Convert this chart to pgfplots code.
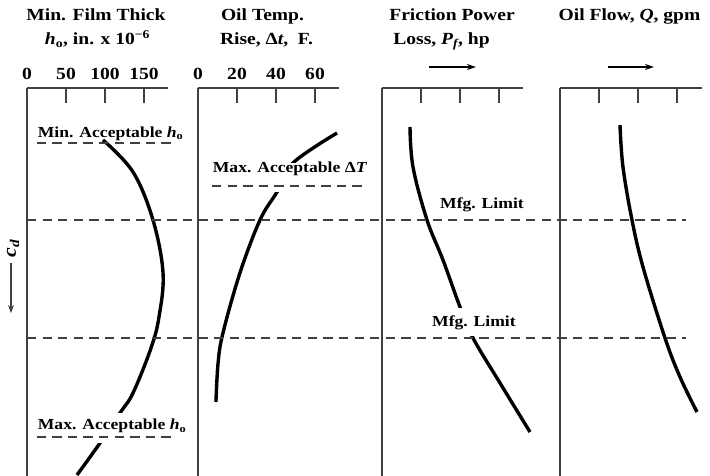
\documentclass[border=0pt]{standalone}
\usepackage{fontspec}
\setmainfont{Liberation Serif}[FakeStretch=1.15]
\usepackage{pgfplots}
\pgfplotsset{compat=1.18}
\usetikzlibrary{arrows.meta}
\definecolor{axgray}{HTML}{404040}
\newcommand{\tf}{\fontsize{17}{20}\selectfont\bfseries}
\newcommand{\af}{\fontsize{15.3}{18}\selectfont\bfseries}
\pgfplotsset{
  panel/.style={
    y=1pt, ymin=0, ymax=388,
    axis x line=top, axis y line=left,
    axis line style={-, line width=1.3pt, color=axgray},
    tick align=inside, major tick length=15pt,
    tick style={line width=1.3pt, color=axgray},
    ytick=\empty, minor tick num=0,
    clip=false,
    /pgf/number format/assume math mode=true,
    xticklabel style={font=\tf, anchor=base, yshift=8pt},
    anchor=south west,
  },
  ldash/.style={axgray, line width=1.4pt, dash pattern=on 9.3pt off 6.3pt, mark=none},
}
\begin{document}
\begin{tikzpicture}
\useasboundingbox (0,0) rectangle (710pt,476pt);
% Panel 1: film thickness
\begin{axis}[panel, at={(27pt,0pt)}, x=0.78pt, xmin=0, xmax=180.8, xtick={0,50,100,150}]
\addplot[black, line width=3.4pt, smooth, tension=0.6, mark=none] coordinates {(97.4,336) (135.9,304) (161.5,256) (174.4,203) (169.2,159) (159,128) (135.9,83) (119.2,63) (93.6,33) (64.1,1)};
\node[anchor=base west, font=\af, inner xsep=0pt, inner ysep=0pt] at (axis cs:13.7,338.7) {Min. Acceptable \textit{h}\textsubscript{o}};
\node[anchor=base west, font=\af, inner xsep=1pt, inner ysep=0pt, fill=white, text height=17pt, text depth=13pt] at (axis cs:12.4,46) {Max. Acceptable \textit{h}\textsubscript{o}};
\addplot[ldash] coordinates {(12.4,333) (187.2,333)};
\addplot[ldash] coordinates {(12.4,39) (187.2,39)};
\end{axis}
% Panel 2: oil temperature rise
\begin{axis}[panel, at={(198pt,0pt)}, x=1.95pt, xmin=0, xmax=72.3, xtick={0,20,40,60}]
\addplot[black, line width=3.4pt, smooth, tension=0.6, mark=none] coordinates {(71.3,343) (48.7,313) (40.5,284) (31.8,256) (21.5,203) (12.8,143) (10.3,113) (9.2,74)};
\node[anchor=base west, font=\af, inner xsep=1pt, inner ysep=0pt, fill=white, text height=10pt, text depth=19pt] at (axis cs:7.0,303.3) {Max. Acceptable Δ\textit{T}};
\addplot[ldash] coordinates {(7.2,290) (84.6,290)};
\end{axis}
% Panel 3: friction power loss
\begin{axis}[panel, at={(382pt,0pt)}, x=39pt, xmin=0, xmax=3.615, xtick={1,2,3}, xticklabels={}]
\addplot[black, line width=3.4pt, smooth, tension=0.6, mark=none] coordinates {(0.718,349) (0.795,309) (1.154,256) (1.564,216) (2.0,169) (2.333,138) (3.026,93) (3.795,44)};
\node[anchor=base west, font=\af, inner xsep=0pt, inner ysep=0pt] at (axis cs:1.487,267) {Mfg. Limit};
\node[anchor=base west, font=\af, inner xsep=1pt, inner ysep=0pt, fill=white, text height=19pt, text depth=9pt] at (axis cs:1.256,149) {Mfg. Limit};
\end{axis}
% Panel 4: oil flow
\begin{axis}[panel, at={(560pt,0pt)}, x=39pt, xmin=0, xmax=3.64, xtick={1,2,3}, xticklabels={}]
\addplot[black, line width=3.4pt, smooth, tension=0.6, mark=none] coordinates {(1.538,351) (1.615,309) (1.846,256) (2.128,209) (2.692,138) (3.077,99) (3.513,64)};
\addplot[ldash] coordinates {(-13.667,256) (3.231,256)};
\addplot[ldash] coordinates {(-13.667,138) (3.231,138)};
\end{axis}
% titles
\node[anchor=base, font=\tf] at (96pt,455.3pt) {Min. Film Thick};
\node[anchor=base, font=\tf] at (97.5pt,431pt) {\textit{h}\textsubscript{o}, in. x 10\textsuperscript{−6}};
\node[anchor=base, font=\tf] at (262.5pt,455.3pt) {Oil Temp.};
\node[anchor=base, font=\tf] at (266.5pt,431pt) {Rise, Δ\textit{t},\ \ F.};
\node[anchor=base, font=\tf] at (452pt,455.3pt) {Friction Power};
\node[anchor=base, font=\tf] at (441.5pt,431pt) {Loss, \textit{P\textsubscript{f}}, hp};
\node[anchor=base, font=\tf] at (629.5pt,455.3pt) {Oil Flow, \textit{Q}, gpm};
\draw[line width=1.3pt, -{Stealth[length=9pt,width=6pt]}] (429pt,409pt) -- (476pt,409pt);
\draw[line width=1.3pt, -{Stealth[length=9pt,width=6pt]}] (608pt,409pt) -- (654pt,409pt);
% c_d label
\node[rotate=90, font=\fontsize{19}{22}\selectfont\bfseries, inner sep=0pt] at (13pt,228pt) {\textit{c}\textsubscript{\textit{d}}};
\draw[axgray, line width=1.2pt, -{Stealth[length=8pt,width=6pt]}] (11pt,213pt) -- (11pt,163pt);
\end{tikzpicture}
\end{document}
